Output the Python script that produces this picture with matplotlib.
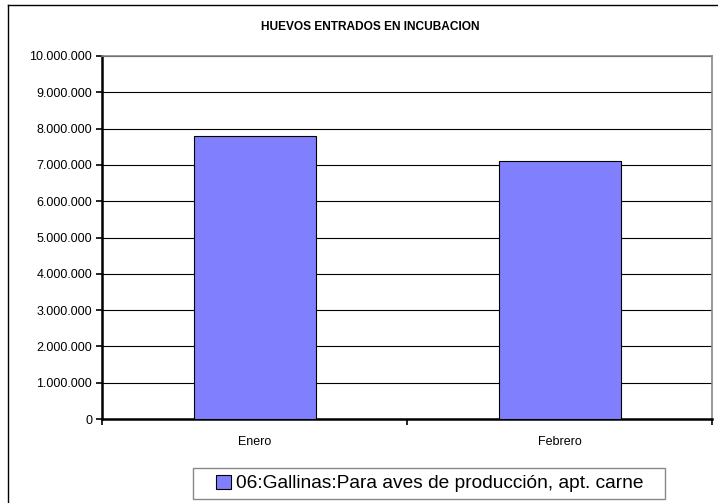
import matplotlib
matplotlib.use("Agg")
import matplotlib.pyplot as plt
from matplotlib.ticker import FuncFormatter, FixedLocator
from matplotlib.lines import Line2D
from matplotlib.patches import Rectangle

categories = ["Enero", "Febrero"]
values = [7800000, 7110000]
series_name = "06:Gallinas:Para aves de producción, apt. carne"
title = "HUEVOS ENTRADOS EN INCUBACION"
yticks = list(range(0, 10000001, 1000000))

plt.rcParams['font.family'] = ['Liberation Sans', 'DejaVu Sans']

fig = plt.figure(figsize=(7.18, 5.03), dpi=100)
ax = fig.add_axes([102/718, 1-419/503, 610/718, 363/503])

x = list(range(len(categories)))
ax.bar(x, values, width=0.4, color='#8080FF', edgecolor='black', linewidth=0.8, zorder=3)
ax.set_xlim(-0.5, len(categories) - 0.5)
ax.set_ylim(0, 10000000)
ax.set_yticks(yticks)
ax.yaxis.set_major_formatter(FuncFormatter(lambda v, p: f"{int(v):,}".replace(",", ".")))
ax.grid(axis='y', color='black', linewidth=0.8, zorder=0)
ax.set_xticks(x)
ax.set_xticklabels(categories, fontsize=9)
ax.tick_params(axis='x', length=0, pad=12)
ax.xaxis.set_minor_locator(FixedLocator([-0.5, 0.5, 1.5]))
ax.tick_params(axis='x', which='minor', length=4, width=1.2, direction='out')
ax.tick_params(axis='y', labelsize=9, length=4, width=1.2, direction='out', pad=3)

for s in ['top', 'right']:
    ax.spines[s].set_color('#888888')
    ax.spines[s].set_linewidth(1.2)
for s in ['left', 'bottom']:
    ax.spines[s].set_color('black')
    ax.spines[s].set_linewidth(1.8)

fig.text(370/718, 1-27/503, title, ha='center', va='center', fontsize=8.6, fontweight='bold')

# outer chart frame
fig.add_artist(Line2D([8/718, 8/718], [0, 1-5/503], transform=fig.transFigure, color='black', linewidth=1))
fig.add_artist(Line2D([8/718, 1], [1-5/503, 1-5/503], transform=fig.transFigure, color='black', linewidth=1))

# legend frame
fig.add_artist(Rectangle((193/718, 1-499/503), 472/718, 31/503, transform=fig.transFigure,
                         facecolor='white', edgecolor='#888888', linewidth=1.0, zorder=4))

handle = Rectangle((0, 0), 1, 1, facecolor='#8080FF', edgecolor='black', linewidth=0.8)
leg = fig.legend([handle], [series_name], loc='center', bbox_to_anchor=(430/718, 1-483.5/503),
                 fontsize=13.8, frameon=False,
                 handlelength=0.75, handleheight=0.75, handletextpad=0.3, borderpad=0.3,
                 borderaxespad=0)
leg.set_zorder(5)

fig.savefig("out.png", dpi=100)
